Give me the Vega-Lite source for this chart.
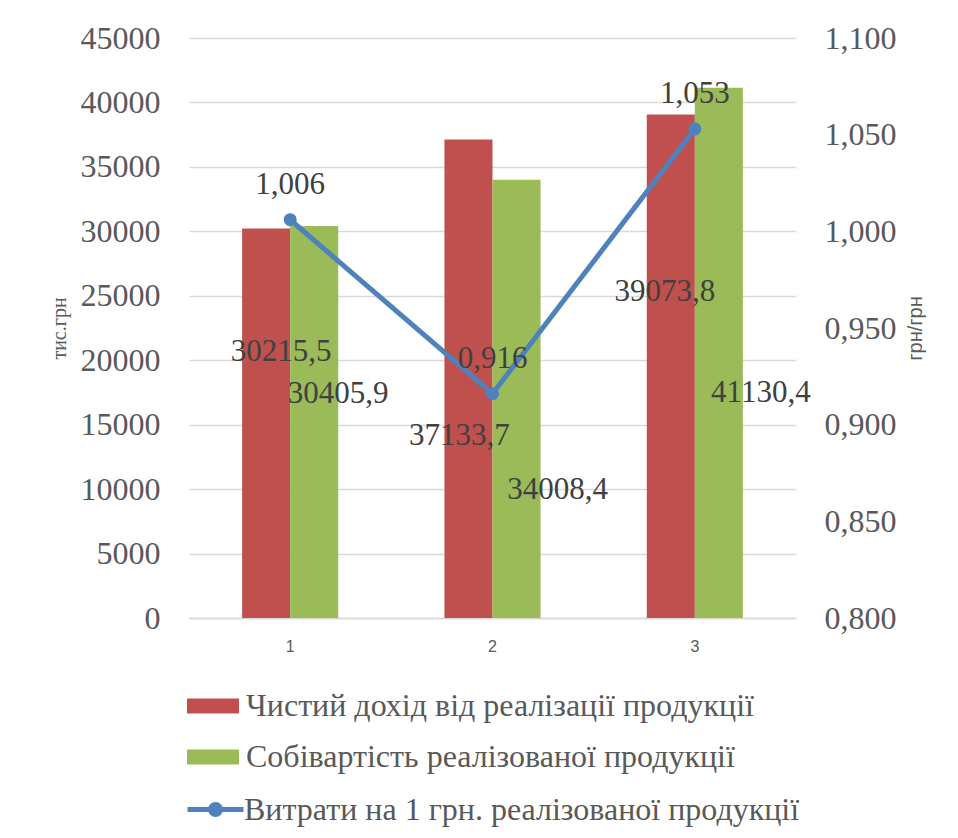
{
  "$schema": "https://vega.github.io/schema/vega-lite/v6.json",
  "width": 607,
  "height": 580,
  "autosize": {"type": "none"},
  "padding": {"left": 189, "top": 38, "right": 162, "bottom": 220},
  "background": "white",
  "datasets": {
    "bars": [
      {"period": "1", "series": "Чистий дохід від реалізації продукції", "value": 30215.5},
      {"period": "1", "series": "Собівартість реалізованої продукції", "value": 30405.9},
      {"period": "2", "series": "Чистий дохід від реалізації продукції", "value": 37133.7},
      {"period": "2", "series": "Собівартість реалізованої продукції", "value": 34008.4},
      {"period": "3", "series": "Чистий дохід від реалізації продукції", "value": 39073.8},
      {"period": "3", "series": "Собівартість реалізованої продукції", "value": 41130.4}
    ],
    "ratio": [
      {"period": "1", "ratio": 1.006},
      {"period": "2", "ratio": 0.916},
      {"period": "3", "ratio": 1.053}
    ]
  },
  "layer": [
    {
      "data": {"name": "bars"},
      "encoding": {
        "x": {
          "field": "period", "type": "nominal",
          "scale": {"paddingInner": 0.525, "paddingOuter": 0.2625},
          "axis": {"title": null, "labelAngle": 0, "domain": true, "domainColor": "#d9d9d9", "domainWidth": 1.5, "labelFont": "Liberation Sans", "labelFontSize": 16, "labelPadding": 20}
        },
        "xOffset": {
          "field": "series", "type": "nominal",
          "scale": {"domain": ["Чистий дохід від реалізації продукції", "Собівартість реалізованої продукції"], "paddingInner": 0, "paddingOuter": 0}
        },
        "y": {
          "field": "value", "type": "quantitative",
          "scale": {"domain": [0, 45000], "nice": false},
          "axis": {"orient": "left", "title": "тис.грн", "titleFont": "Liberation Serif", "titleFontSize": 20, "titleFontWeight": "normal", "titlePadding": 11, "values": [0, 5000, 10000, 15000, 20000, 25000, 30000, 35000, 40000, 45000], "format": "d", "labelFont": "Liberation Serif", "labelFontSize": 32, "labelPadding": 29, "grid": true, "gridColor": "#d9d9d9", "gridWidth": 1.5}
        }
      },
      "layer": [
        {
          "mark": {"type": "bar"},
          "encoding": {
            "fill": {
              "field": "series", "type": "nominal",
              "scale": {"domain": ["Чистий дохід від реалізації продукції", "Собівартість реалізованої продукції"], "range": ["#C0504D", "#9BBB59"]},
              "legend": {"orient": "none", "legendX": -2, "legendY": 642, "title": null, "direction": "vertical", "symbolType": "M-1,-0.29H1V0.29H-1Z", "symbolSize": 2704, "symbolStrokeWidth": 0, "labelFont": "Liberation Serif", "labelFontSize": 32, "labelColor": "#595959", "labelOffset": 7, "rowPadding": 9, "labelLimit": 800}
            }
          }
        },
        {"transform": [{"filter": {"field": "value", "equal": 30215.5}}], "mark": {"type": "text", "dx": 15, "dy": 123}, "encoding": {"text": {"field": "value", "type": "quantitative", "format": ".1f"}}},
        {"transform": [{"filter": {"field": "value", "equal": 30405.9}}], "mark": {"type": "text", "dx": 24, "dy": 168}, "encoding": {"text": {"field": "value", "type": "quantitative", "format": ".1f"}}},
        {"transform": [{"filter": {"field": "value", "equal": 37133.7}}], "mark": {"type": "text", "dx": -9, "dy": 297}, "encoding": {"text": {"field": "value", "type": "quantitative", "format": ".1f"}}},
        {"transform": [{"filter": {"field": "value", "equal": 34008.4}}], "mark": {"type": "text", "dx": 41, "dy": 310}, "encoding": {"text": {"field": "value", "type": "quantitative", "format": ".1f"}}},
        {"transform": [{"filter": {"field": "value", "equal": 39073.8}}], "mark": {"type": "text", "dx": -6, "dy": 178}, "encoding": {"text": {"field": "value", "type": "quantitative", "format": ".1f"}}},
        {"transform": [{"filter": {"field": "value", "equal": 41130.4}}], "mark": {"type": "text", "dx": 42, "dy": 305}, "encoding": {"text": {"field": "value", "type": "quantitative", "format": ".1f"}}}
      ]
    },
    {
      "data": {"name": "ratio"},
      "encoding": {
        "x": {"field": "period", "type": "nominal"},
        "y": {
          "field": "ratio", "type": "quantitative",
          "scale": {"domain": [0.8, 1.1], "nice": false, "zero": false},
          "axis": {"orient": "right", "title": "грн/грн", "titleAngle": 270, "titleFont": "Liberation Sans", "titleFontSize": 20, "titleFontWeight": "normal", "titlePadding": 29, "values": [0.8, 0.85, 0.9, 0.95, 1.0, 1.05, 1.1], "format": ".3f", "labelFont": "Liberation Serif", "labelFontSize": 32, "labelPadding": 28, "grid": false}
        }
      },
      "layer": [
        {
          "mark": {"type": "line", "strokeWidth": 5},
          "encoding": {
            "stroke": {
              "datum": "Витрати на 1 грн. реалізованої продукції", "type": "nominal",
              "scale": {"range": ["#4F81BD"]},
              "legend": {"orient": "none", "legendX": -4, "legendY": 741, "title": null, "symbolType": "M-1,0H1M-0.18,0A0.18,0.18 0 1 1 0.18,0A0.18,0.18 0 1 1 -0.18,0Z", "symbolSize": 3136, "symbolStrokeWidth": 5, "symbolFillColor": "#4F81BD", "labelFont": "Liberation Serif", "labelFontSize": 32, "labelColor": "#595959", "labelOffset": -2, "labelLimit": 800,
                "encode": {"symbols": {"update": {"fill": {"value": "#4F81BD"}, "stroke": {"value": "#4F81BD"}, "strokeWidth": {"value": 5}}}}}
            }
          }
        },
        {"mark": {"type": "point", "filled": true, "size": 170, "color": "#4F81BD", "opacity": 1}},
        {"mark": {"type": "text", "dy": -35}, "encoding": {"text": {"field": "ratio", "type": "quantitative", "format": ".3f"}}}
      ]
    }
  ],
  "resolve": {"scale": {"y": "independent"}},
  "config": {
    "locale": {"number": {"decimal": ",", "thousands": " ", "grouping": [3], "currency": ["", ""]}},
    "view": {"stroke": null},
    "axis": {"ticks": false, "domain": false, "labelColor": "#595959", "titleColor": "#595959", "grid": false},
    "text": {"font": "Liberation Serif", "fontSize": 31, "color": "#404040", "baseline": "middle", "align": "center"}
  }
}
